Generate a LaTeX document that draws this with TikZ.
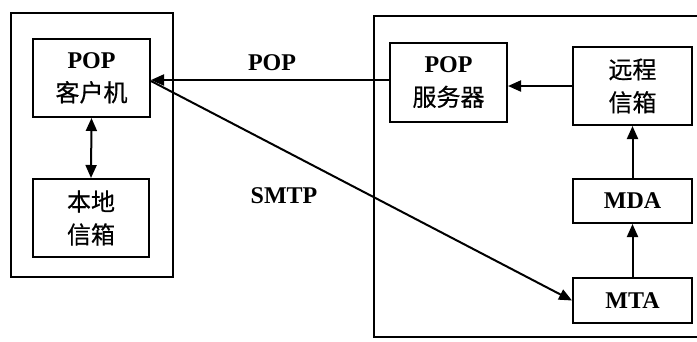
\documentclass[tikz,border=0pt]{standalone}
\usepackage{fontspec}
\setmainfont{Liberation Serif}
\newfontfamily\cjkfam[FakeBold=0.5]{Noto Sans CJK SC}
\newcommand\cjktext[1]{{\mdseries\cjkfam #1}}
\usetikzlibrary{arrows.meta}
\begin{document}
\begin{tikzpicture}[x=1pt,y=-1pt,
  line width=2pt,
  box/.style={draw,rectangle,inner sep=0pt,align=center,font=\fontsize{24}{33}\selectfont\bfseries},
  arr/.style={-{Triangle[length=13pt,width=11pt]}},
  lbl/.style={font=\fontsize{24}{28}\selectfont\bfseries,inner sep=0pt}]
\useasboundingbox (0,0) rectangle (697,341);
% outer frames
\draw (11,13) rectangle (173,277);
\draw (700,16) -- (374,16) -- (374,337) -- (700,337);
% boxes
\node[box,minimum width=117pt,minimum height=78pt] (client) at (91.5,78) {POP\\\cjktext{客户机}};
\node[box,minimum width=116pt,minimum height=78pt] (local) at (91,218) {\cjktext{本地}\\\cjktext{信箱}};
\node[box,minimum width=117pt,minimum height=79pt] (server) at (448.5,82.5) {POP\\\cjktext{服务器}};
\node[box,minimum width=119pt,minimum height=78pt] (remote) at (632.5,86) {\cjktext{远程}\\\cjktext{信箱}};
\node[box,minimum width=119pt,minimum height=44pt] (mda) at (632.5,201) {MDA};
\node[box,minimum width=119pt,minimum height=45pt] (mta) at (632.5,300.5) {MTA};
% connectors
\draw[{Triangle[length=13pt,width=11pt]}-{Triangle[length=13pt,width=11pt]}] (client.south) -- (local.north);
\draw[arr] ([yshift=2.5pt]server.west) -- ([yshift=2.5pt]server.west -| client.east);
\draw[arr] ([yshift=-3pt]client.east) -- (mta.west);
\draw[arr] (remote.west) -- (remote.west -| server.east);
\draw[arr] (mda.north) -- (remote.south);
\draw[arr] (mta.north) -- (mda.south);
% labels
\node[lbl] (poplbl) at (272,63) {POP};
\node[lbl] (smtplbl) at (284,196) {SMTP};
\end{tikzpicture}
\end{document}
